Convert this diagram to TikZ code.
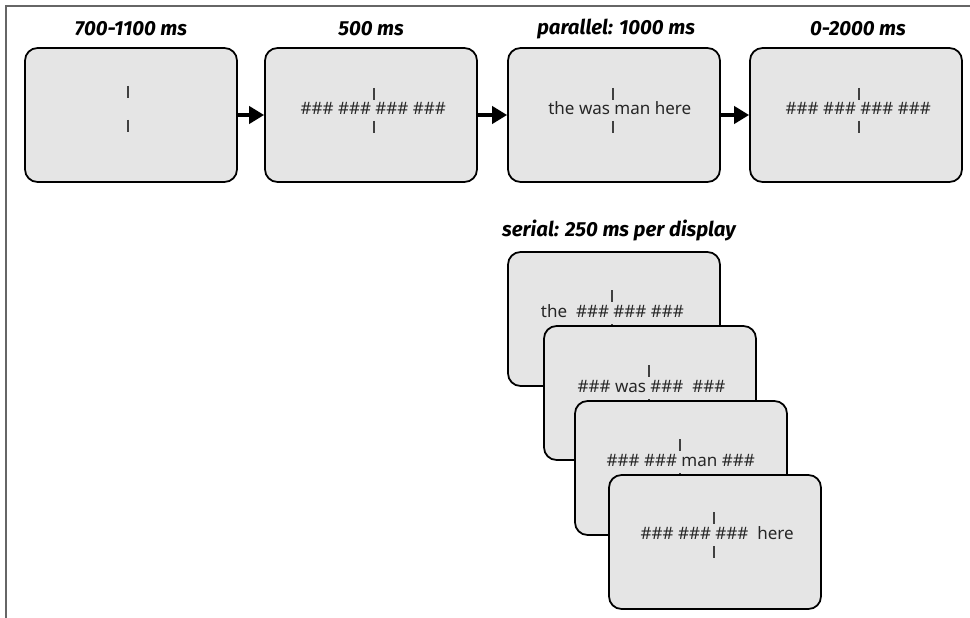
\documentclass[tikz,border=0pt]{standalone}
\usepackage{fontspec}
\setmainfont{Noto Sans}
\newfontfamily\timingfont{Fira Sans}
\usetikzlibrary{arrows.meta}

\begin{document}
\begin{tikzpicture}[x=0.02cm,y=-0.02cm]
	\tikzstyle{screen}=[draw=black,fill=black!10,line width=1pt,rounded corners=0.25cm,minimum width=4.24cm,minimum height=2.68cm,inner sep=0pt]
	\tikzstyle{word}=[inner sep=0pt,text=black!85,font=\fontsize{9.7}{11}\selectfont]
	\tikzstyle{timing}=[inner sep=1pt,font=\timingfont\bfseries\itshape\fontsize{11.6}{13}\selectfont]
	\tikzstyle{fix}=[line width=0.6pt,black!75]
	\tikzstyle{go}=[line width=2.8pt,-{Triangle[length=0.3cm,width=0.34cm]}]
	\useasboundingbox (0,0) rectangle (970,618);
	% frame
	\draw[line width=1.1pt,black!60] (6,618) -- (6,6) -- (970,6);
	% parallel sequence
	\node[screen] (b1) at (131,115) {};
	\node[screen] (b2) at (371,115) {};
	\node[screen] (b3) at (614,115) {};
	\node[screen] (b4) at (856,115) {};
	\draw[go] (b1.east) -- (b2.west);
	\draw[go] (b2.east) -- (b3.west);
	\draw[go] (b3.east) -- (b4.west);
	\node[timing] (h1) at (131,29) {700-1100 ms};
	\node[timing] (h2) at (371,29) {500 ms};
	\node[timing] (h3) at (616,29) {parallel: 1000 ms};
	\node[timing] (h4) at (858,29) {0-2000 ms};
	\coordinate (f1) at (128,109);
	\draw[fix] (f1) ++(0,-23) -- ++(0,12);
	\draw[fix] (f1) ++(0,11) -- ++(0,12);
	\coordinate (f2) at (374,110);
	\node[word,anchor=mid east] (w2a) at ([xshift=-0.05cm]f2) {\#\#\# \#\#\#};
	\node[word,anchor=mid west] (w2b) at ([xshift=0.02cm]f2) {\#\#\# \#\#\#};
	\draw[fix] (f2) ++(0,-22) -- ++(0,12);
	\draw[fix] (f2) ++(0,11) -- ++(0,12);
	\coordinate (f3) at (613,110);
	\node[word,anchor=mid east] (w3a) at ([xshift=-0.05cm]f3) {the was};
	\node[word,anchor=mid west] (w3b) at ([xshift=0.02cm]f3) {man here};
	\draw[fix] (f3) ++(0,-22) -- ++(0,12);
	\draw[fix] (f3) ++(0,11) -- ++(0,12);
	\coordinate (f4) at (859,110);
	\node[word,anchor=mid east] (w4a) at ([xshift=-0.05cm]f4) {\#\#\# \#\#\#};
	\node[word,anchor=mid west] (w4b) at ([xshift=0.02cm]f4) {\#\#\# \#\#\#};
	\draw[fix] (f4) ++(0,-22) -- ++(0,12);
	\draw[fix] (f4) ++(0,11) -- ++(0,12);
	% serial sequence
	\node[timing] (h5) at (619,231) {serial: 250 ms per display};
	\node[screen] (s1) at (614,319) {};
	\coordinate (g1) at (612,313);
	\node[word,anchor=mid east] (v1a) at ([xshift=-0.05cm]g1) {the\ \ \#\#\#};
	\node[word,anchor=mid west] (v1b) at ([xshift=0.02cm]g1) {\#\#\# \#\#\#};
	\draw[fix] (g1) ++(0,-23) -- ++(0,12);
	\draw[fix] (g1) ++(0,11) -- ++(0,12);
	\node[screen] (s2) at (650,393) {};
	\coordinate (g2) at (649,388);
	\node[word,anchor=mid east] (v2a) at ([xshift=-0.05cm]g2) {\#\#\# was};
	\node[word,anchor=mid west] (v2b) at ([xshift=0.02cm]g2) {\#\#\#\ \ \#\#\#};
	\draw[fix] (g2) ++(0,-23) -- ++(0,12);
	\draw[fix] (g2) ++(0,11) -- ++(0,12);
	\node[screen] (s3) at (681,468) {};
	\coordinate (g3) at (680,462);
	\node[word,anchor=mid east] (v3a) at ([xshift=-0.05cm]g3) {\#\#\# \#\#\#};
	\node[word,anchor=mid west] (v3b) at ([xshift=0.02cm]g3) {man \#\#\#};
	\draw[fix] (g3) ++(0,-23) -- ++(0,12);
	\draw[fix] (g3) ++(0,11) -- ++(0,12);
	\node[screen] (s4) at (715,542) {};
	\coordinate (g4) at (714,535);
	\node[word,anchor=mid east] (v4a) at ([xshift=-0.05cm]g4) {\#\#\# \#\#\#};
	\node[word,anchor=mid west] (v4b) at ([xshift=0.02cm]g4) {\#\#\#\ \ here};
	\draw[fix] (g4) ++(0,-23) -- ++(0,12);
	\draw[fix] (g4) ++(0,11) -- ++(0,12);
\end{tikzpicture}
\end{document}
